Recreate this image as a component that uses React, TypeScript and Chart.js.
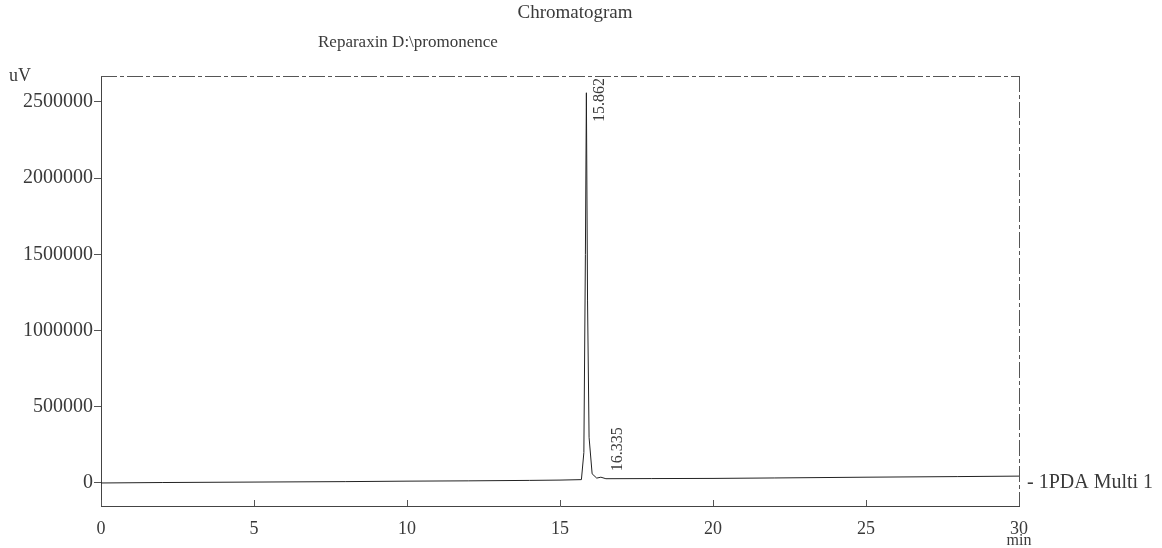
import React, { useEffect, useRef } from "react";
import { Chart, registerables } from "chart.js";

Chart.register(...registerables);

const timesMin = [0, 2, 5, 8, 10, 12, 14, 15, 15.7, 15.78, 15.83, 15.862, 15.9, 15.95, 16.05, 16.2, 16.335, 16.5, 18, 20, 22, 25, 28, 30];
const signalUv = [0, 3000, 6000, 9000, 12000, 14000, 17000, 19000, 22000, 200000, 1500000, 2560000, 1200000, 300000, 60000, 32000, 38000, 28000, 29000, 30000, 33000, 38000, 42000, 45000];
const peakTimes = [15.862, 16.335];
const peakLabels = ["15.862", "16.335"];
const xTicks = [0, 5, 10, 15, 20, 25, 30];
const yTicks = [0, 500000, 1000000, 1500000, 2000000, 2500000];
const titleText = "Chromatogram";
const subtitleText = "Reparaxin D:\\promonence";
const yUnit = "uV";
const xUnit = "min";
const seriesName = "1PDA Multi 1";

const FONT = "'Liberation Serif', 'Times New Roman', serif";
const INK = "#3a3a3a";

export default function App() {
  const ref = useRef<HTMLCanvasElement | null>(null);

  useEffect(() => {
    if (!ref.current) return;
    const points = timesMin.map((t, i) => ({ x: t, y: signalUv[i] }));

    const overlay = {
      id: "overlay",
      afterDraw(chart: any) {
        const { ctx, chartArea } = chart;
        const xs = chart.scales.x;
        const ys = chart.scales.y;
        ctx.save();
        // frame top and right
        ctx.strokeStyle = "#555";
        ctx.lineWidth = 1;
        ctx.setLineDash([16, 3, 4, 3]);
        ctx.beginPath();
        ctx.moveTo(chartArea.left, chartArea.top + 0.5);
        ctx.lineTo(chartArea.right, chartArea.top + 0.5);
        ctx.moveTo(chartArea.right + 0.5, chartArea.top);
        ctx.lineTo(chartArea.right + 0.5, chartArea.bottom);
        ctx.stroke();
        ctx.setLineDash([]);
        // inner x tick marks
        ctx.beginPath();
        xTicks.forEach((v) => {
          const px = Math.round(xs.getPixelForValue(v)) + 0.5;
          ctx.moveTo(px, chartArea.bottom);
          ctx.lineTo(px, chartArea.bottom - 6);
        });
        ctx.stroke();

        ctx.fillStyle = INK;
        ctx.textBaseline = "middle";
        // titles
        ctx.font = `19px ${FONT}`;
        ctx.textAlign = "center";
        ctx.fillText(titleText, 575, 13);
        ctx.font = `17px ${FONT}`;
        ctx.textAlign = "left";
        ctx.fillText(subtitleText, 318, 43);
        // units
        ctx.font = `18px ${FONT}`;
        ctx.fillText(yUnit, 9, 76);
        ctx.font = `16px ${FONT}`;
        ctx.textAlign = "center";
        ctx.fillText(xUnit, xs.getPixelForValue(30), 541);
        // series label
        ctx.font = `20px ${FONT}`;
        ctx.textAlign = "left";
        const lastV = signalUv[signalUv.length - 1];
        ctx.fillText("- " + seriesName, chartArea.right + 8, ys.getPixelForValue(lastV) + 7);

        // peak labels (rotated)
        ctx.font = `16px ${FONT}`;
        peakTimes.forEach((t, i) => {
          const idx = timesMin.indexOf(t);
          const v = signalUv[idx];
          const px = xs.getPixelForValue(t);
          const py = ys.getPixelForValue(v);
          const w = ctx.measureText(peakLabels[i]).width;
          const bottom = Math.max(py - 6, chartArea.top + 2 + w);
          ctx.save();
          ctx.translate(px + (i === 0 ? 13 : 17), bottom);
          ctx.rotate(-Math.PI / 2);
          ctx.textAlign = "left";
          ctx.textBaseline = "middle";
          ctx.fillText(peakLabels[i], 0, 0);
          ctx.restore();
        });
        ctx.restore();
      },
    };

    const chart = new Chart(ref.current, {
      type: "line",
      data: {
        datasets: [
          {
            label: seriesName,
            data: points,
            borderColor: "#222",
            borderWidth: 1,
            pointRadius: 0,
            tension: 0,
            fill: false,
          },
        ],
      },
      options: {
        responsive: false,
        animation: false,
        layout: { padding: { top: 76, right: 143, bottom: 0, left: 0 } },
        plugins: { legend: { display: false }, title: { display: false }, tooltip: { enabled: false } },
        scales: {
          x: {
            type: "linear",
            min: 0,
            max: 30,
            afterFit: (s: any) => {
              s.height = 42;
            },
            afterBuildTicks: (s: any) => {
              s.ticks = xTicks.map((v) => ({ value: v }));
            },
            grid: { display: false },
            border: { display: true, color: "#444", width: 1, dash: [10, 2, 3, 2] },
            ticks: {
              font: { family: FONT, size: 18 },
              color: INK,
              padding: 4,
              maxRotation: 0,
              callback: (v: any) => String(v),
            },
          },
          y: {
            type: "linear",
            min: -151000,
            max: 2670000,
            afterFit: (s: any) => {
              s.width = 101;
            },
            afterBuildTicks: (s: any) => {
              s.ticks = yTicks.map((v) => ({ value: v }));
            },
            grid: { display: true, drawOnChartArea: false, tickLength: 7, color: "#555" },
            border: { display: true, color: "#444", width: 1, dash: [6, 2] },
            ticks: {
              font: { family: FONT, size: 20 },
              color: INK,
              padding: 1,
              callback: (v: any) => String(v),
            },
          },
        },
      },
      plugins: [overlay],
    });
    return () => chart.destroy();
  }, []);

  return (
    <div style={{ position: "absolute", left: 0, top: 0, width: 1162, height: 548, background: "#fff" }}>
      <canvas ref={ref} width={1162} height={548} />
    </div>
  );
}
